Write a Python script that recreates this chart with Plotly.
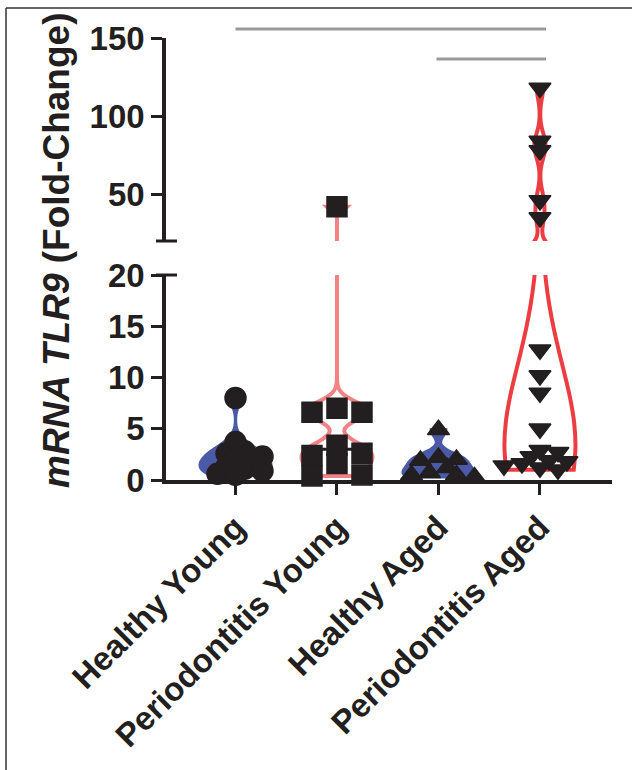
import numpy as np
import plotly.graph_objects as go

# ---------------- data ----------------
categories = ["Healthy Young", "Periodontitis Young", "Healthy Aged", "Periodontitis Aged"]
healthy_young = [8.0, 3.7, 2.8, 2.6, 2.3, 2.0, 1.7, 1.3, 1.1, 0.9, 0.6, 0.5]
perio_young = [42.0, 7.0, 6.6, 6.6, 3.4, 2.6, 2.4, 1.6, 0.5, 0.4]
healthy_aged = [4.9, 2.2, 2.0, 1.9, 1.2, 0.7, 0.5, 0.5, 0.3]
perio_aged = [118, 84, 78, 46, 35, 12.7, 10.2, 8.5, 5.0, 2.9, 2.7, 2.3, 1.9, 1.8, 1.6, 1.4, 1.2, 1.0]
lower_ticks = [0, 5, 10, 15, 20]
upper_ticks = [50, 100, 150]
break_value = 20

# ---------------- styling ----------------
W, H = 632, 770
ML, MR, MT, MB = 166, 20, 38, 290
PW, PH = W - ML - MR, H - MT - MB
X_RANGE = [-0.685, 3.71]
LOW_DOM = [0, 205 / PH]
UP_DOM = [239 / PH, 1]
UP_RANGE = [20, 150]
INK = "#231F20"
BLUE = "#4B5AA8"
PINK = "#F28283"
RED = "#EC3E42"
FONT = "Liberation Sans"
TICK_SIZE = 33

groups = [
    dict(vals=healthy_young, line=BLUE, fill=BLUE, lw=3, bw=0.75, sym="circle", size=21, frac=0.5, step=9),
    dict(vals=perio_young, line=PINK, fill="white", lw=4, bw=0.9, sym="square", size=20, frac=0.8, step=25),
    dict(vals=healthy_aged, line=BLUE, fill=BLUE, lw=3, bw=0.65, sym="triangle-up", size=19, frac=0.55, step=9),
    dict(vals=perio_aged, line=RED, fill="white", lw=4, bw=7.0, sym="triangle-down", size=19, frac=0.55, step=9),
]

x_px_per_unit = PW / (X_RANGE[1] - X_RANGE[0])
low_px_per_unit = (LOW_DOM[1] - LOW_DOM[0]) * PH / 20.0
up_px_per_unit = (UP_DOM[1] - UP_DOM[0]) * PH / (UP_RANGE[1] - UP_RANGE[0])


def swarm(vals, px_per_unit, size, frac, step):
    """simple beeswarm: returns x offsets in category units"""
    vals = np.asarray(vals, float)
    order = np.argsort(-vals)
    placed = []
    offs = np.zeros(len(vals))
    for i in order:
        y = vals[i] * px_per_unit
        for k in range(60):
            cands = [0.0] if k == 0 else [k * step, -k * step]
            ok = None
            for c in cands:
                if all((c - px) ** 2 + (y - py) ** 2 >= (size * frac) ** 2 for px, py in placed):
                    ok = c
                    break
            if ok is not None:
                placed.append((ok, y))
                offs[i] = ok / x_px_per_unit
                break
    return offs


fig = go.Figure()

for gi, g in enumerate(groups):
    vals = np.asarray(g["vals"], float)
    for yax in ["y", "y2"]:
        fig.add_trace(go.Violin(
            x=[gi] * len(vals), y=vals, xaxis="x", yaxis=yax,
            width=0.7, scalemode="width", spanmode="hard", bandwidth=g["bw"],
            line=dict(color=g["line"], width=g["lw"]), fillcolor=g["fill"],
            points=False, box_visible=False, meanline_visible=False,
            showlegend=False, hoverinfo="skip", opacity=1,
        ))
    if gi == 1:
        med = float(np.median(vals))
        fig.add_trace(go.Scatter(x=[gi - 0.2, gi + 0.2], y=[med, med], mode="lines",
                                 line=dict(color=INK, width=3), showlegend=False,
                                 hoverinfo="skip", xaxis="x", yaxis="y"))
    low = vals[vals <= break_value]
    up = vals[vals > break_value]
    for sub, ppu, yax, frac in [(low, low_px_per_unit, "y", g["frac"]), (up, up_px_per_unit, "y2", 0.45)]:
        if len(sub) == 0:
            continue
        offs = swarm(sub, ppu, g["size"], frac, g["step"])
        fig.add_trace(go.Scatter(
            x=gi + offs, y=sub, mode="markers", xaxis="x", yaxis=yax,
            marker=dict(symbol=g["sym"], size=g["size"], color=INK,
                        line=dict(color=INK, width=1.5)),
            cliponaxis=False, showlegend=False, hoverinfo="skip",
        ))

axis_common = dict(showline=True, linewidth=3.5, linecolor=INK, ticks="outside",
                   ticklen=11, tickwidth=3, tickcolor=INK, showgrid=False, zeroline=False,
                   automargin=False,
                   tickfont=dict(family=FONT, size=TICK_SIZE, color=INK))

fig.update_layout(
    width=W, height=H, autosize=False,
    margin=dict(l=ML, r=MR, t=MT, b=MB),
    paper_bgcolor="white", plot_bgcolor="white",
    xaxis=dict(range=X_RANGE, tickmode="array", tickvals=list(range(len(categories))),
               ticktext=[f"<b>{c}</b>" for c in categories], tickangle=-45,
               anchor="y", **axis_common),
    yaxis=dict(domain=LOW_DOM, range=[0, 20], tickmode="array", tickvals=lower_ticks,
               ticktext=[f"<b>{t}</b>" for t in lower_ticks], anchor="x", **axis_common),
    yaxis2=dict(domain=UP_DOM, range=UP_RANGE, tickmode="array", tickvals=upper_ticks,
                ticktext=[f"<b>{t}</b>" for t in upper_ticks], anchor="x", **axis_common),
)

# y-axis title
fig.add_annotation(text="<b><i>mRNA TLR9</i> (Fold-Change)</b>", textangle=-90,
                   xref="paper", yref="paper", x=(57 - ML) / PW, y=(480 - 251) / PH,
                   xanchor="center", yanchor="middle", showarrow=False,
                   font=dict(family=FONT, size=37, color=INK))

# axis break caps
cap_l, cap_r = -10 / PW, 11 / PW
fig.add_shape(type="line", xref="paper", yref="y domain", x0=cap_l, x1=cap_r, y0=1, y1=1,
              line=dict(color=INK, width=3))
fig.add_shape(type="line", xref="paper", yref="y2 domain", x0=cap_l, x1=cap_r, y0=0, y1=0,
              line=dict(color=INK, width=3))

# significance bars
GRAY = "#9A9A9A"
fig.add_shape(type="line", xref="x", yref="paper", x0=0, x1=3.06,
              y0=(480 - 29) / PH, y1=(480 - 29) / PH, line=dict(color=GRAY, width=3))
fig.add_shape(type="line", xref="x", yref="paper", x0=1.98, x1=3.06,
              y0=(480 - 59) / PH, y1=(480 - 59) / PH, line=dict(color=GRAY, width=3))

# frame (left and top edges visible)
fx0 = (6 - ML) / PW
fy1 = (480 - 8) / PH
fig.add_shape(type="line", xref="paper", yref="paper", x0=fx0, x1=fx0, y0=(480 - 775) / PH, y1=fy1,
              line=dict(color="#333333", width=1.5))
fig.add_shape(type="line", xref="paper", yref="paper", x0=fx0, x1=(640 - ML) / PW, y0=fy1, y1=fy1,
              line=dict(color="#333333", width=1.5))

fig.write_html("out.html", config={"displayModeBar": False},
               post_script="document.body.style.margin='0px';")
